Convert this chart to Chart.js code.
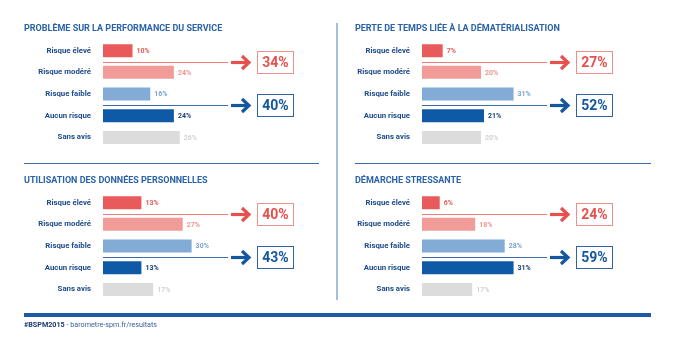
<!DOCTYPE html>
<html>
<head>
<meta charset="utf-8">
<script src="https://cdn.jsdelivr.net/npm/chart.js@4/dist/chart.umd.min.js"></script>
<style>
  body { margin: 0; background: #fff; }
  #wrap { position: relative; width: 675px; height: 337px; overflow: hidden; background: #fff;
          font-family: Roboto, sans-serif; }
  canvas { position: absolute; }
  .hline { position: absolute; height: 1px; background: #3d6aa6; top: 163px; }
  #vline { position: absolute; left: 336px; top: 23px; width: 2px; height: 277px; background: #a3bfe0; }
  #foot { position: absolute; left: 24px; top: 313px; width: 627px; height: 4px; background: #1c5aa5; }
  #foottxt { position: absolute; left: 24px; top: 320px; font-size: 7.2px; color: #3a619a; line-height: 10px; }
  #foottxt b { color: #173a6e; }
</style>
</head>
<body>
<div id="wrap">
  <canvas id="c1" width="320" height="165" style="left:0;top:0"></canvas>
  <canvas id="c2" width="320" height="165" style="left:319px;top:0"></canvas>
  <canvas id="c3" width="320" height="165" style="left:0;top:152px"></canvas>
  <canvas id="c4" width="320" height="165" style="left:319px;top:152px"></canvas>
  <div class="hline" style="left:24px;width:295px"></div>
  <div class="hline" style="left:355px;width:296px"></div>
  <div id="vline"></div>
  <div id="foot"></div>
  <div id="foottxt"><b>#BSPM2015</b> - barometre-spm.fr/resultats</div>
</div>
<script>
  var FONT = "Roboto, sans-serif";

  // data
  var categories = ['Risque élevé', 'Risque modéré', 'Risque faible', 'Aucun risque', 'Sans avis'];
  var titles = ['PROBLÈME SUR LA PERFORMANCE DU SERVICE', 'PERTE DE TEMPS LIÉE À LA DÉMATÉRIALISATION',
                'UTILISATION DES DONNÉES PERSONNELLES', 'DÉMARCHE STRESSANTE'];
  var perfValues = [10, 24, 16, 24, 26];
  var tempsValues = [7, 20, 31, 21, 20];
  var donneesValues = [13, 27, 30, 13, 17];
  var stressValues = [6, 18, 28, 31, 17];
  var riskTotals = [34, 27, 40, 24];
  var noRiskTotals = [40, 52, 43, 59];

  var barColors = ['#e95b5a', '#f29c99', '#82abd6', '#0f5aa6', '#dcdcdc'];
  var valueColors = ['#e55a5a', '#f0948f', '#7ba3d0', '#16407c', '#d2d2d2'];

  function drawLink(ctx, left, y, total, lineColor, mainColor, boxColor) {
    y = Math.round(y);
    ctx.strokeStyle = lineColor;
    ctx.lineWidth = 1;
    ctx.beginPath();
    ctx.moveTo(left, y + 0.5);
    ctx.lineTo(left + 125, y + 0.5);
    ctx.stroke();
    // arrow
    ctx.strokeStyle = mainColor;
    ctx.lineWidth = 3.2;
    ctx.beginPath();
    ctx.moveTo(left + 128, y + 0.5);
    ctx.lineTo(left + 145, y + 0.5);
    ctx.stroke();
    ctx.beginPath();
    ctx.moveTo(left + 139, y - 6);
    ctx.lineTo(left + 146, y + 0.5);
    ctx.lineTo(left + 139, y + 7);
    ctx.stroke();
    // box
    ctx.strokeStyle = boxColor;
    ctx.lineWidth = 1;
    ctx.strokeRect(left + 154.5, y - 10.5, 36, 22);
    ctx.fillStyle = mainColor;
    ctx.font = 'bold 14px ' + FONT;
    ctx.textAlign = 'center';
    ctx.textBaseline = 'middle';
    ctx.fillText(total + '%', left + 172.5, y + 1);
  }

  var decorPlugin = {
    id: 'decor',
    afterDatasetsDraw: function(chart, args, opts) {
      var ctx = chart.ctx, xs = chart.scales.x, ys = chart.scales.y;
      var data = chart.data.datasets[0].data;
      ctx.save();
      ctx.font = 'bold 7px ' + FONT;
      ctx.textAlign = 'left';
      ctx.textBaseline = 'middle';
      data.forEach(function(v, i) {
        ctx.fillStyle = valueColors[i];
        ctx.fillText(v + '%', xs.getPixelForValue(v) + 4, ys.getPixelForValue(i) + 0.5);
      });
      var left = chart.chartArea.left;
      drawLink(ctx, left, (ys.getPixelForValue(0) + ys.getPixelForValue(1)) / 2,
               opts.risk, '#ee7a78', '#e5514f', '#f08e8c');
      drawLink(ctx, left, (ys.getPixelForValue(2) + ys.getPixelForValue(3)) / 2,
               opts.noRisk, '#3e6ba8', '#14569f', '#2f63a5');
      ctx.restore();
    }
  };

  function makeChart(id, title, values, k, padLeft) {
    new Chart(document.getElementById(id), {
      type: 'bar',
      data: {
        labels: categories,
        datasets: [{ data: values, backgroundColor: barColors, barPercentage: 0.6, categoryPercentage: 1 }]
      },
      options: {
        indexAxis: 'y',
        responsive: false,
        animation: false,
        layout: { padding: { left: padLeft, right: 25, top: 0, bottom: 15 } },
        plugins: {
          legend: { display: false },
          tooltip: { enabled: false },
          title: {
            display: true, text: title, align: 'start', color: '#2b63a8',
            font: { family: FONT, size: 9, weight: 'bold' },
            padding: { top: 23, bottom: 6 }
          },
          decor: { risk: riskTotals[k], noRisk: noRiskTotals[k] }
        },
        scales: {
          x: { display: false, min: 0, max: 65 },
          y: {
            grid: { display: false, drawTicks: false },
            border: { display: false },
            ticks: { color: '#1d4a8b', padding: 12, font: { family: FONT, size: 7.8, weight: 'bold' } },
            afterFit: function(scale) { scale.width = 103 - padLeft; }
          }
        }
      },
      plugins: [decorPlugin]
    });
  }

  makeChart('c1', titles[0], perfValues, 0, 24);
  makeChart('c2', titles[1], tempsValues, 1, 36);
  makeChart('c3', titles[2], donneesValues, 2, 24);
  makeChart('c4', titles[3], stressValues, 3, 36);
</script>
</body>
</html>
